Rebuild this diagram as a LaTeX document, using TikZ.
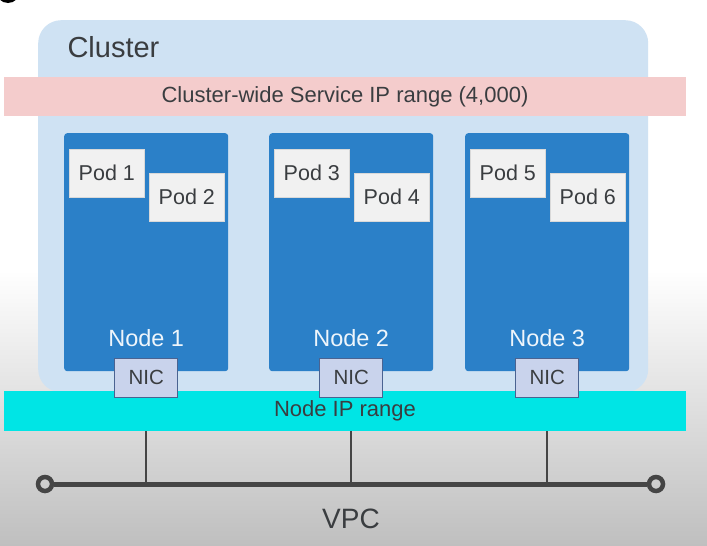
\documentclass[tikz,border=0pt]{standalone}
\usepackage{fontspec}
\setmainfont{Liberation Sans}
\definecolor{clusterbg}{HTML}{CFE2F3}
\definecolor{pinkband}{HTML}{F4CCCC}
\definecolor{nodeblue}{HTML}{2B80C8}
\definecolor{podfill}{HTML}{F1F1F1}
\definecolor{nicfill}{HTML}{C9D3EC}
\definecolor{nicdraw}{HTML}{4A6391}
\definecolor{cyanband}{HTML}{00E5E5}
\definecolor{txt}{HTML}{3A3D40}
\definecolor{wire}{HTML}{454545}
\definecolor{bggray}{HTML}{BFBFBF}
\begin{document}
\begin{tikzpicture}[x=1pt,y=-1pt,
  band/.style={minimum width=682pt,inner sep=0pt,text=txt},
  nodebox/.style={fill=nodeblue,rounded corners=3pt,minimum width=164pt,minimum height=238pt,inner sep=0pt,anchor=north west},
  podbox/.style={fill=podfill,draw=black!15,line width=0.6pt,minimum width=75pt,minimum height=48pt,inner sep=0pt,anchor=north west,text=txt,font=\fontsize{21.5}{25}\selectfont},
  nicbox/.style={fill=nicfill,draw=nicdraw,line width=0.8pt,minimum width=63pt,minimum height=39pt,inner sep=0pt,text=txt,font=\fontsize{20.5}{24}\selectfont},
  nodelabel/.style={text=white!92!nodeblue,font=\fontsize{23.5}{28}\selectfont},
  wireline/.style={draw=wire,line width=2pt},
  endring/.style={circle,draw=wire,line width=4.5pt,minimum size=14pt,inner sep=0pt,fill=none}
]
\useasboundingbox (0,0) rectangle (707,546);
\fill[white] (0,0) rectangle (707,546);
\shade[top color=white,bottom color=bggray] (0,270) rectangle (707,546);
\fill[black] (8,-9) circle (12pt);
% cluster
\node[fill=clusterbg,rounded corners=23pt,minimum width=610pt,minimum height=372pt,inner sep=0pt,anchor=north west] (cluster) at (38,20) {};
\node[anchor=west,text=txt,font=\fontsize{29}{34}\selectfont] (clusterlabel) at (64,47) {Cluster};
% service band
\node[band,fill=pinkband,minimum height=39pt,font=\fontsize{22}{26}\selectfont] (svc) at (345,96.5) {Cluster-wide Service IP range (4,000)};
% nodes
\foreach \i/\x in {1/64,2/269,3/465}{
  \node[nodebox] (node\i) at (\x,133) {};
  \node[nodelabel] (nodelabel\i) at ([yshift=33pt]node\i.south) {Node \i};
}
\foreach \n/\p/\a in {1/1/2,2/3/4,3/5/6}{
  \node[podbox] (pod\p) at ([xshift=5pt,yshift=-16pt]node\n.north west) {Pod \p};
  \node[podbox] (pod\a) at ([xshift=85pt,yshift=-40pt]node\n.north west) {Pod \a};
}
% node ip band
\node[band,fill=cyanband,minimum height=40pt,font=\fontsize{22}{26}\selectfont] (iprange) at (345,411) {Node IP range};
% NICs
\foreach \i in {1,2,3}{
  \node[nicbox] (nic\i) at ([yshift=-6.5pt]node\i.south) {NIC};
}
% VPC
\node[endring] (vl) at (45,484) {};
\node[endring] (vr) at (656,484) {};
\draw[draw=wire,line width=5pt] (vl) -- (vr);
\foreach \i in {1,2,3}{
  \draw[wireline] (nic\i.center |- iprange.south) -- (nic\i.center |- vl.center);
}
\node[text=txt,font=\fontsize{28}{33}\selectfont] (vpc) at (351,519) {VPC};
\end{tikzpicture}
\end{document}
